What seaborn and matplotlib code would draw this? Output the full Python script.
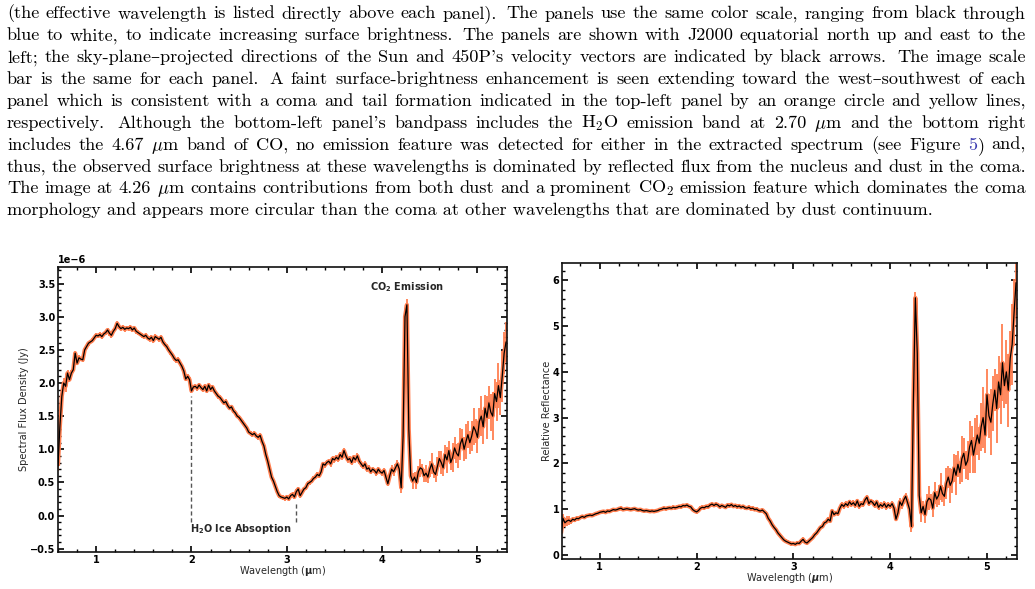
import numpy as np
import matplotlib
matplotlib.use("Agg")
import matplotlib.pyplot as plt
from matplotlib.ticker import MultipleLocator
import seaborn as sns

# ------------------------------------------------------------------ data
wavelength_um = np.round(np.arange(0.60, 5.3001, 0.02), 2)   # sampling grid

# spectral flux density, units of 1e-6 Jy (one row = 0.2 um)
flux_1e6_jy = [
    0.75, 1.35, 1.80, 2.00, 1.95, 2.15, 2.05, 2.15, 2.20, 2.45,   # 0.60
    2.30, 2.38, 2.36, 2.35, 2.50, 2.55, 2.60, 2.62, 2.64, 2.68,   # 0.80
    2.72, 2.71, 2.73, 2.70, 2.74, 2.76, 2.80, 2.75, 2.72, 2.78,   # 1.00
    2.82, 2.90, 2.85, 2.82, 2.84, 2.81, 2.83, 2.82, 2.84, 2.80,   # 1.20
    2.83, 2.78, 2.76, 2.74, 2.72, 2.70, 2.72, 2.68, 2.66, 2.69,   # 1.40
    2.64, 2.70, 2.68, 2.66, 2.69, 2.62, 2.58, 2.55, 2.50, 2.46,   # 1.60
    2.42, 2.37, 2.34, 2.35, 2.30, 2.25, 2.18, 2.06, 2.10, 2.05,   # 1.80
    1.88, 1.94, 1.95, 1.92, 1.97, 1.93, 1.90, 1.95, 1.88, 1.97,   # 2.00
    1.90, 1.94, 1.88, 1.84, 1.80, 1.78, 1.74, 1.70, 1.72, 1.66,   # 2.20
    1.62, 1.64, 1.58, 1.55, 1.50, 1.48, 1.44, 1.40, 1.36, 1.32,   # 2.40
    1.26, 1.24, 1.22, 1.24, 1.20, 1.18, 1.21, 1.12, 1.05, 0.92,   # 2.60
    0.82, 0.70, 0.58, 0.52, 0.44, 0.36, 0.30, 0.28, 0.27, 0.26,   # 2.80
    0.28, 0.25, 0.30, 0.32, 0.28, 0.36, 0.40, 0.30, 0.35, 0.40,   # 3.00
    0.42, 0.48, 0.50, 0.52, 0.56, 0.58, 0.62, 0.60, 0.66, 0.78,   # 3.20
    0.76, 0.80, 0.82, 0.78, 0.86, 0.84, 0.88, 0.85, 0.92, 0.88,   # 3.40
    0.98, 0.90, 0.84, 0.86, 0.80, 0.88, 0.84, 0.90, 0.82, 0.78,   # 3.60
    0.74, 0.78, 0.70, 0.72, 0.66, 0.70, 0.68, 0.64, 0.70, 0.66,   # 3.80
    0.64, 0.68, 0.58, 0.48, 0.60, 0.70, 0.66, 0.72, 0.78, 0.70,   # 4.00
    0.42, 1.20, 3.00, 3.18, 1.30, 0.60, 0.52, 0.58, 0.50, 0.66,   # 4.20
    0.72, 0.70, 0.60, 0.64, 0.58, 0.70, 0.78, 0.66, 0.62, 0.74,   # 4.40
    0.86, 0.80, 0.72, 0.92, 0.84, 0.98, 0.80, 0.88, 1.02, 0.94,   # 4.60
    0.90, 1.08, 1.16, 1.00, 1.12, 1.22, 1.10, 1.20, 1.34, 1.28,   # 4.80
    1.18, 1.42, 1.50, 1.34, 1.62, 1.48, 1.70, 1.56, 1.50, 1.84,   # 5.00
    1.72, 1.96, 1.78, 2.10, 2.45, 2.62,                           # 5.20
]
# flux uncertainty (1e-6 Jy): one value per 0.1 um bin for 0.6-4.3 um ...
flux_err_bins = [
    0.08, 0.04, 0.035, 0.035, 0.035, 0.035, 0.035, 0.035, 0.035, 0.035,
    0.035, 0.035, 0.035, 0.035, 0.035, 0.035, 0.035, 0.035, 0.035, 0.035,
    0.035, 0.035, 0.035, 0.035, 0.035, 0.035, 0.035, 0.035, 0.04, 0.04,
    0.04, 0.04, 0.04, 0.04, 0.04, 0.06, 0.08,
]
# ... and one value per sample for 4.30-5.30 um
flux_err_tail = [
    0.08, 0.12, 0.07, 0.10, 0.09, 0.14, 0.08, 0.10, 0.13, 0.09,
    0.12, 0.16, 0.10, 0.11, 0.15, 0.12, 0.18, 0.13, 0.14, 0.20,
    0.15, 0.12, 0.22, 0.16, 0.14, 0.19, 0.24, 0.15, 0.18, 0.26,
    0.20, 0.17, 0.22, 0.28, 0.18, 0.24, 0.21, 0.30, 0.26, 0.20,
    0.32, 0.25, 0.28, 0.36, 0.22, 0.30, 0.34, 0.26, 0.38, 0.32, 0.30,
]

# relative reflectance (one row = 0.2 um)
reflectance = [
    0.47, 0.80, 0.70, 0.74, 0.76, 0.73, 0.78, 0.76, 0.80, 0.79,   # 0.60
    0.82, 0.84, 0.82, 0.85, 0.86, 0.87, 0.86, 0.88, 0.90, 0.91,   # 0.80
    0.93, 0.94, 0.95, 0.93, 0.96, 0.95, 0.97, 0.99, 0.98, 0.99,   # 1.00
    1.01, 1.02, 0.99, 1.00, 1.01, 1.00, 0.99, 1.00, 1.01, 0.99,   # 1.20
    0.98, 0.99, 0.97, 0.96, 0.97, 0.96, 0.95, 0.96, 0.95, 0.96,   # 1.40
    0.97, 0.99, 1.00, 1.02, 1.01, 1.02, 1.03, 1.02, 1.04, 1.03,   # 1.60
    1.04, 1.06, 1.05, 1.08, 1.07, 1.09, 1.06, 1.05, 0.99, 0.96,   # 1.80
    0.94, 0.97, 1.02, 1.04, 1.03, 1.06, 1.05, 1.09, 1.11, 1.08,   # 2.00
    1.11, 1.09, 1.05, 1.08, 1.06, 1.04, 1.09, 1.07, 1.10, 1.06,   # 2.20
    1.08, 1.05, 1.07, 1.04, 1.06, 1.03, 1.02, 1.04, 1.01, 1.02,   # 2.40
    0.99, 1.00, 0.97, 0.96, 0.98, 0.94, 0.90, 0.80, 0.74, 0.66,   # 2.60
    0.60, 0.55, 0.48, 0.43, 0.38, 0.33, 0.30, 0.28, 0.26, 0.24,   # 2.80
    0.25, 0.23, 0.26, 0.25, 0.30, 0.34, 0.28, 0.26, 0.30, 0.34,   # 3.00
    0.38, 0.44, 0.48, 0.54, 0.60, 0.62, 0.70, 0.72, 0.78, 0.74,   # 3.20
    0.96, 0.88, 0.92, 0.90, 1.02, 1.10, 1.06, 1.12, 1.08, 1.16,   # 3.40
    1.10, 1.14, 1.08, 1.18, 1.06, 1.12, 1.10, 1.20, 1.26, 1.12,   # 3.60
    1.18, 1.14, 1.08, 1.16, 1.04, 1.10, 1.06, 1.12, 1.04, 1.10,   # 3.80
    1.06, 1.12, 1.02, 0.78, 0.92, 1.16, 1.08, 1.20, 1.28, 1.14,   # 4.00
    1.00, 0.62, 3.40, 5.62, 4.40, 1.30, 0.92, 1.06, 0.88, 1.16,   # 4.20
    1.24, 1.20, 1.02, 1.36, 1.22, 1.30, 1.50, 1.34, 1.28, 1.56,   # 4.40
    1.70, 1.52, 1.62, 1.90, 1.74, 1.98, 1.80, 2.10, 2.22, 1.96,   # 4.60
    2.06, 2.36, 2.50, 2.18, 2.40, 2.62, 2.44, 2.80, 3.00, 2.62,   # 4.80
    3.50, 3.04, 2.90, 3.30, 3.60, 3.20, 3.78, 3.50, 4.20, 3.70,   # 5.00
    4.00, 3.60, 4.30, 4.60, 5.30, 5.95,                           # 5.20
]
refl_err_bins = [
    0.10, 0.05, 0.04, 0.04, 0.04, 0.04, 0.04, 0.04, 0.04, 0.04,
    0.04, 0.04, 0.04, 0.04, 0.04, 0.04, 0.04, 0.04, 0.04, 0.04,
    0.04, 0.04, 0.04, 0.04, 0.04, 0.04, 0.04, 0.04, 0.04, 0.05,
    0.05, 0.05, 0.05, 0.05, 0.05, 0.08, 0.12,
]
refl_err_tail = [
    0.14, 0.20, 0.12, 0.18, 0.16, 0.26, 0.14, 0.20, 0.24, 0.17,
    0.22, 0.30, 0.19, 0.21, 0.34, 0.24, 0.38, 0.26, 0.30, 0.44,
    0.28, 0.25, 0.50, 0.34, 0.30, 0.42, 0.56, 0.32, 0.40, 0.60,
    0.44, 0.36, 0.52, 0.66, 0.40, 0.56, 0.48, 0.72, 0.60, 0.46,
    0.76, 0.56, 0.64, 0.84, 0.50, 0.70, 0.80, 0.60, 0.88, 0.74, 0.70,
]

ice_band_edges_um = [2.0, 3.1]
ice_line_tops = [1.80, 0.21]          # 1e-6 Jy
ice_label = "H$_\\mathbf{2}$O Ice Absoption"
co2_label = "CO$_\\mathbf{2}$ Emission"
co2_label_pos = (4.26, 3.45)          # (um, 1e-6 Jy)
ice_label_pos = (1.98, -0.20)

caption_lines = [
    "(the effective wavelength is listed directly above each panel). The panels use the same color scale, ranging from black through",
    "blue to white, to indicate increasing surface brightness. The panels are shown with J2000 equatorial north up and east to the",
    "left; the sky-plane\u2013projected directions of the Sun and 450P's velocity vectors are indicated by black arrows. The image scale",
    "bar is the same for each panel. A faint surface-brightness enhancement is seen extending toward the west\u2013southwest of each",
    "panel which is consistent with a coma and tail formation indicated in the top-left panel by an orange circle and yellow lines,",
    "respectively. Although the bottom-left panel's bandpass includes the H$_2$O emission band at 2.70 $\\mu$m and the bottom right",
    "includes the 4.67 $\\mu$m band of CO, no emission feature was detected for either in the extracted spectrum (see Figure 5) and,",
    "thus, the observed surface brightness at these wavelengths is dominated by reflected flux from the nucleus and dust in the coma.",
    "The image at 4.26 $\\mu$m contains contributions from both dust and a prominent CO$_2$ emission feature which dominates the coma",
    "morphology and appears more circular than the coma at other wavelengths that are dominated by dust continuum.",
]
link_words = {"5)": [("5", "#3b3bb0"), (")", "black")]}

# ------------------------------------------------------------------ style
sns.set_theme(style="ticks")
plt.rcParams["font.family"] = ["DejaVu Sans"]
plt.rcParams["font.weight"] = "bold"
plt.rcParams["axes.labelweight"] = "normal"
plt.rcParams["axes.unicode_minus"] = True

W, H = 1035, 589
fig = plt.figure(figsize=(W / 100, H / 100), dpi=100)
renderer = fig.canvas.get_renderer()

# ------------------------------------------------------------------ caption
CAP_FAMILY = ["cmr10", "DejaVu Serif"]


def text_width(s, fs):
    t = fig.text(0, 0, s, fontsize=fs, family=CAP_FAMILY, math_fontfamily="cm",
                 fontweight="normal")
    w = t.get_window_extent(renderer).width
    t.remove()
    return w


cap_left, cap_right = 7.0, 1026.0
last_line_width = 926.0
fs_cap = 10.0 * last_line_width / text_width(caption_lines[-1], 10.0)

for i, line in enumerate(caption_lines):
    ybase = 1 - (18.5 + 21.86 * i) / H
    kw = dict(fontsize=fs_cap, family=CAP_FAMILY, math_fontfamily="cm",
              fontweight="normal", va="baseline", ha="left")
    if i == len(caption_lines) - 1:
        fig.text(cap_left / W, ybase, line, color="black", **kw)
        continue
    words = line.split(" ")
    segs = [link_words.get(w, [(w, "black")]) for w in words]
    widths = [sum(text_width(s, fs_cap) for s, _ in seg) for seg in segs]
    weights = [1.5 if w.rstrip(")").endswith(".") else 1.0 for w in words[:-1]]
    gap = (cap_right - cap_left - sum(widths)) / sum(weights)
    x = cap_left
    for k, seg in enumerate(segs):
        for s, c in seg:
            fig.text(x / W, ybase, s, color=c, **kw)
            x += text_width(s, fs_cap)
        if k < len(weights):
            x += gap * weights[k]

# ------------------------------------------------------------------ axes
ax1 = fig.add_axes([58 / W, 1 - 552 / H, (507 - 58) / W, (552 - 267) / H])
ax2 = fig.add_axes([562 / W, 1 - 559 / H, (1017 - 562) / W, (559 - 263) / H])

wl = wavelength_um
flux = np.array(flux_1e6_jy) * 1e-6
flux_err = np.concatenate([np.repeat(flux_err_bins, 5), flux_err_tail]) * 1e-6
refl = np.array(reflectance)
refl_err = np.concatenate([np.repeat(refl_err_bins, 5), refl_err_tail])

ORANGE = "#ff7f50"
for ax, y, e in [(ax1, flux, flux_err), (ax2, refl, refl_err)]:
    ax.vlines(wl, y - e, y + e, color=ORANGE, lw=1.3, zorder=1)
    ax.plot(wl, y, color=ORANGE, lw=3.0, zorder=1, solid_capstyle="butt")
    sns.lineplot(x=wl, y=y, ax=ax, color="black", lw=0.9, zorder=3,
                 estimator=None, sort=False)

ax1.set_xlim(0.6, 5.31)
ax1.set_ylim(-0.55e-6, 3.75e-6)
ax2.set_xlim(0.61, 5.31)
ax2.set_ylim(-0.09, 6.38)

for ax in (ax1, ax2):
    ax.xaxis.set_major_locator(MultipleLocator(1))
    ax.xaxis.set_minor_locator(MultipleLocator(0.2))
    ax.tick_params(which="both", direction="in", top=True, right=True,
                   labelsize=7, colors="black", pad=2)
    ax.tick_params(which="major", length=4.5, width=1.2)
    ax.tick_params(which="minor", length=2.3, width=1.0)
    for sp in ax.spines.values():
        sp.set_linewidth(1.2)
        sp.set_color("#111111")
        sp.set_visible(True)

ax1.yaxis.set_major_locator(MultipleLocator(0.5e-6))
ax1.yaxis.set_minor_locator(MultipleLocator(0.1e-6))
ax2.yaxis.set_major_locator(MultipleLocator(1))
ax2.yaxis.set_minor_locator(MultipleLocator(0.2))
ax1.yaxis.get_offset_text().set_fontsize(7)
ax1.yaxis.get_offset_text().set_fontweight("bold")

ax1.set_xlabel("Wavelength ($\\mathbf{\\mu}$m)", fontsize=7, fontweight="normal")
ax1.set_ylabel("Spectral Flux Density (Jy)", fontsize=7, fontweight="normal")
ax2.set_xlabel("Wavelength ($\\mu$m)", fontsize=7, fontweight="normal")
ax2.set_ylabel("Relative Reflectance", fontsize=7, fontweight="normal")
ax1.xaxis.set_label_coords(0.5, -0.042)
ax1.yaxis.set_label_coords(-0.0646, 0.5)
ax2.xaxis.set_label_coords(0.5, -0.0405)
ax2.yaxis.set_label_coords(-0.021, 0.5)

# annotations on the flux panel
for xe, top in zip(ice_band_edges_um, ice_line_tops):
    ax1.vlines(xe, -0.1e-6, top * 1e-6, colors="#555555", lw=1.0,
               linestyles=(0, (3, 2)), zorder=2)
ax1.text(ice_label_pos[0], ice_label_pos[1] * 1e-6, ice_label, fontsize=7,
         fontweight="bold", ha="left", va="center")
ax1.text(co2_label_pos[0], co2_label_pos[1] * 1e-6, co2_label, fontsize=7,
         fontweight="bold", ha="center", va="center")

fig.savefig("out.png", dpi=100)
